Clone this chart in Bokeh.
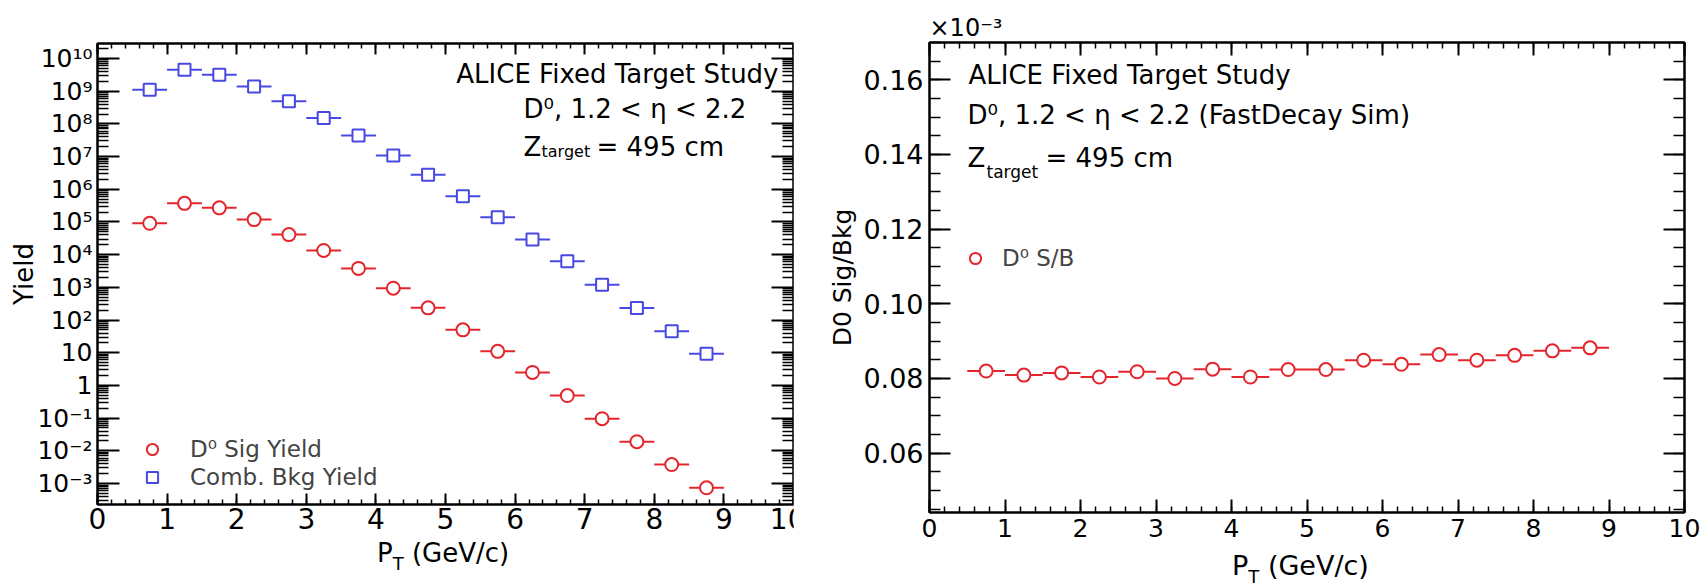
from bokeh.plotting import figure
from bokeh.layouts import row, column
from bokeh.models import (LogAxis, LinearAxis, FixedTicker, SingleIntervalTicker,
                          Label, Legend, LegendItem, Range1d, NumeralTickFormatter,
                          Div, Title)
from bokeh.embed import file_html
from bokeh.resources import INLINE

# ---------------- data ----------------
pt = [0.75, 1.25, 1.75, 2.25, 2.75, 3.25, 3.75, 4.25, 4.75,
      5.25, 5.75, 6.25, 6.75, 7.25, 7.75, 8.25, 8.75]
pt_half_width = 0.25
sig_yield = [9.1e4, 3.7e5, 2.7e5, 1.18e5, 4.1e4, 1.34e4, 3.8e3, 940, 236,
             50, 11, 2.5, 0.49, 0.096, 0.019, 0.0038, 7.4e-4]
bkg_yield = [1.1e9, 4.5e9, 3.2e9, 1.4e9, 4.9e8, 1.5e8, 4.4e7, 1.07e7, 2.8e6,
             6.1e5, 1.4e5, 2.9e4, 6.3e3, 1.2e3, 235, 45, 9.3]
sb_ratio = [0.0820, 0.0809, 0.0815, 0.0804, 0.0818, 0.0800, 0.0825, 0.0804, 0.0824,
            0.0824, 0.0849, 0.0838, 0.0864, 0.0849, 0.0862, 0.0874, 0.0882]

yield_tick_exponents = list(range(-3, 11))
yield_tick_labels = ["10\u207b\u00b3", "10\u207b\u00b2", "10\u207b\u00b9", "1", "10",
                     "10\u00b2", "10\u00b3", "10\u2074", "10\u2075", "10\u2076",
                     "10\u2077", "10\u2078", "10\u2079", "10\u00b9\u2070"]

FONT = "DejaVu Sans"
RED = "#e4262c"
BLUE = "#4848e4"

pt_lo = [x - pt_half_width for x in pt]
pt_hi = [x + pt_half_width for x in pt]


def style_axis(ax, tick_in, minor_in, label_size, standoff):
    ax.axis_line_width = 2
    ax.axis_line_color = "black"
    ax.major_tick_in = tick_in
    ax.major_tick_out = 0
    ax.minor_tick_in = minor_in
    ax.minor_tick_out = 0
    ax.major_tick_line_width = 2
    ax.minor_tick_line_width = 1.5
    ax.major_label_text_font = FONT
    ax.major_label_text_font_size = label_size
    ax.major_label_text_color = "black"
    ax.major_label_standoff = standoff


def hide_labels(ax):
    ax.major_label_text_font_size = "1px"
    ax.major_label_text_alpha = 0
    ax.major_label_standoff = 0


TEXT_DY = 9


def add_text(p, text, sx, sy, size, align="left"):
    p.add_layout(Label(x=sx, y=sy + TEXT_DY, x_units="screen", y_units="screen", text=text,
                       text_font=FONT, text_font_size=size, text_color="black",
                       text_align=align, text_baseline="alphabetic"))


def title_div(width, height, left, top, size, sub_dy):
    html = (
        f'<div style="position:relative;width:{width}px;height:{height}px;'
        f'font-family:\'{FONT}\';color:black;">'
        f'<span style="position:absolute;left:{left}px;top:{top}px;white-space:nowrap;'
        f'font-size:{size}px;line-height:{size}px;">P'
        f'<span style="font-size:18px;position:relative;top:{sub_dy}px;">T</span>'
        f'&nbsp;(GeV/c)</span></div>'
    )
    return Div(text=html, width=width, height=height,
               styles={"margin": "0", "padding": "0", "overflow": "visible"})


# ---------------- left panel: yields ----------------
y_major = [10.0 ** e for e in yield_tick_exponents]
y_minor = [m * 10.0 ** e for e in range(-4, 11) for m in range(2, 10)]

p1 = figure(width=805, height=544, y_axis_type="log",
            x_range=Range1d(0, 10), y_range=Range1d(2.28e-4, 2.87e10),
            output_backend="svg", toolbar_location=None,
            min_border_left=97, min_border_right=12, min_border_top=43, min_border_bottom=40)
p1.xgrid.visible = False
p1.ygrid.visible = False
p1.outline_line_color = "black"
p1.outline_line_width = 2
p1.background_fill_color = "white"
p1.border_fill_color = "white"

p1.xaxis.ticker = SingleIntervalTicker(interval=1, num_minor_ticks=5)
style_axis(p1.xaxis[0], 11, 5, "28px", 3)
p1.yaxis.ticker = FixedTicker(ticks=y_major, minor_ticks=y_minor)
style_axis(p1.yaxis[0], 22, 11, "25px", 5)
p1.yaxis.major_label_overrides = {v: s for v, s in zip(y_major, yield_tick_labels)}
p1.yaxis.axis_label = "Yield"
p1.yaxis.axis_label_text_font = FONT
p1.yaxis.axis_label_text_font_size = "26px"
p1.yaxis.axis_label_text_font_style = "normal"
p1.yaxis.axis_label_text_color = "black"
p1.yaxis.axis_label_standoff = -5

top1 = LinearAxis(ticker=SingleIntervalTicker(interval=1, num_minor_ticks=5))
style_axis(top1, 11, 5, "1px", 0)
hide_labels(top1)
p1.add_layout(top1, "above")
right1 = LogAxis(ticker=FixedTicker(ticks=y_major, minor_ticks=y_minor))
style_axis(right1, 22, 11, "1px", 0)
hide_labels(right1)
p1.add_layout(right1, "right")

p1.segment(x0=pt_lo, y0=bkg_yield, x1=pt_hi, y1=bkg_yield, line_color=BLUE, line_width=2)
r_bkg = p1.scatter(x=pt, y=bkg_yield, marker="square", size=12, line_color=BLUE,
                   line_width=2, fill_color="white")
p1.segment(x0=pt_lo, y0=sig_yield, x1=pt_hi, y1=sig_yield, line_color=RED, line_width=2)
r_sig = p1.scatter(x=pt, y=sig_yield, marker="circle", size=13, line_color=RED,
                   line_width=2, fill_color="white")

leg1 = Legend(items=[LegendItem(label="D\u2070 Sig Yield", renderers=[r_sig]),
                     LegendItem(label="Comb. Bkg Yield", renderers=[r_bkg])],
              location=(41, 13), glyph_width=28, glyph_height=28, label_standoff=24,
              spacing=0, padding=0, margin=0, border_line_alpha=0,
              background_fill_alpha=0, label_text_font=FONT, label_text_font_size="23px")
p1.add_layout(leg1)

# frame-relative text (frame left = 97, bottom = 504 on page)
add_text(p1, "ALICE Fixed Target Study", 681, 422, "26px", align="right")
add_text(p1, "D\u2070, 1.2 < \u03b7 < 2.2", 426, 387, "26px")
add_text(p1, "Z", 426, 349, "26px")
add_text(p1, "target", 444, 344, "16px")
add_text(p1, "= 495 cm", 499, 349, "26px")

div1 = title_div(805, 41, 377, -4, 26, 8)
col1 = column(p1, div1, spacing=0)
col1.margin = (0, -12, 0, 0)

# ---------------- right panel: S/B ----------------
p2 = figure(width=913, height=552,
            x_range=Range1d(0, 10), y_range=Range1d(0.0441, 0.170),
            output_backend="svg", toolbar_location=None,
            min_border_left=136, min_border_right=22, min_border_top=42, min_border_bottom=40)
p2.xgrid.visible = False
p2.ygrid.visible = False
p2.outline_line_color = "black"
p2.outline_line_width = 2
p2.background_fill_color = "white"
p2.border_fill_color = "white"

p2.xaxis.ticker = SingleIntervalTicker(interval=1, num_minor_ticks=5)
style_axis(p2.xaxis[0], 13, 6, "25px", 6)
p2.yaxis.ticker = SingleIntervalTicker(interval=0.02, num_minor_ticks=4)
p2.yaxis.formatter = NumeralTickFormatter(format="0.00")
style_axis(p2.yaxis[0], 21, 11, "27px", 6)
p2.yaxis.axis_label = "D0 Sig/Bkg"
p2.yaxis.axis_label_text_font = FONT
p2.yaxis.axis_label_text_font_size = "25px"
p2.yaxis.axis_label_text_font_style = "normal"
p2.yaxis.axis_label_text_color = "black"
p2.yaxis.axis_label_standoff = 3

top2 = LinearAxis(ticker=SingleIntervalTicker(interval=1, num_minor_ticks=5))
style_axis(top2, 13, 6, "1px", 0)
hide_labels(top2)
p2.add_layout(top2, "above")
right2 = LinearAxis(ticker=SingleIntervalTicker(interval=0.02, num_minor_ticks=4))
style_axis(right2, 21, 11, "1px", 0)
hide_labels(right2)
p2.add_layout(right2, "right")

p2.add_layout(Title(text="\u00d710\u207b\u00b3", align="left", offset=0, standoff=2,
                    text_font=FONT, text_font_size="24px", text_font_style="normal",
                    text_color="black"), "above")

p2.segment(x0=pt_lo, y0=sb_ratio, x1=pt_hi, y1=sb_ratio, line_color=RED, line_width=2)
r_sb = p2.scatter(x=pt, y=sb_ratio, marker="circle", size=13, line_color=RED,
                  line_width=2, fill_color="white")

leg2 = Legend(items=[LegendItem(label="D\u2070 S/B", renderers=[r_sb])],
              location=(32, 240), glyph_width=28, glyph_height=28, label_standoff=13,
              spacing=0, padding=0, margin=0, border_line_alpha=0,
              background_fill_alpha=0, label_text_font=FONT, label_text_font_size="23px")
p2.add_layout(leg2)

# frame-relative text (frame left = 929, bottom = 512 on page)
add_text(p2, "ALICE Fixed Target Study", 39, 429, "26px")
add_text(p2, "D\u2070, 1.2 < \u03b7 < 2.2 (FastDecay Sim)", 38, 389, "26px")
add_text(p2, "Z", 38, 346, "26px")
add_text(p2, "target", 57, 332, "17px")
add_text(p2, "= 495 cm", 116, 346, "26px")

div2 = title_div(913, 33, 439, 0, 27, 8)
col2 = column(p2, div2, spacing=0)

layout = row(col1, col2, spacing=0)
open("out.html", "w").write(file_html(layout, INLINE))
